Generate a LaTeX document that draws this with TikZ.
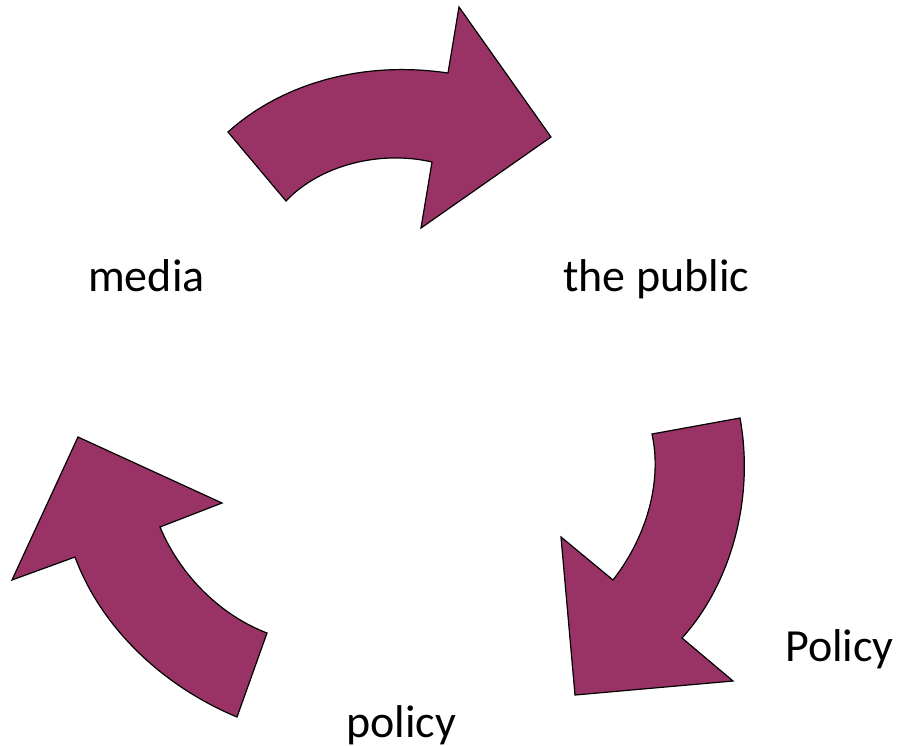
\documentclass[tikz,border=0pt]{standalone}
\usepackage{fontspec}
\setmainfont{Carlito}
\definecolor{plum}{HTML}{993366}
\tikzset{
	turnarrow/.style = {fill=plum, draw=black, line width=1.2pt, line join=miter},
	label text/.style = {anchor=base west, inner sep=0pt, font=\fontsize{46}{55}\selectfont}
}

\begin{document}
\begin{tikzpicture}[x = 1pt, y = -1pt]
		
		\useasboundingbox (0,0) rectangle (897,745);
		
		\draw[turnarrow] (228,132) .. controls (280,85) and (360,60) .. (448,73) -- (459,7) -- (551,137) -- (421,228) -- (432,162) .. controls (380,150) and (320,165) .. (286,201) -- cycle;
		\draw[turnarrow] (740,418) -- (652,434) .. controls (662,480) and (648,535) .. (613,580) -- (561,537) -- (575,695) -- (733,681) -- (682,638) .. controls (730,585) and (755,500) .. (740,418) -- cycle;
		\draw[turnarrow] (267,633) -- (237,717) .. controls (160,685) and (100,625) .. (75,557) -- (12,580) -- (78,437) -- (222,503) -- (160,527) .. controls (180,575) and (220,615) .. (267,633) -- cycle;
		
		\node (media) at (88,291) [label text] {media};
		\node (public) at (563,291) [label text] {the public};
		\node (Policy) at (785,661) [label text] {Policy};
		\node (policy) at (346,737) [label text] {policy};
	\end{tikzpicture}
\end{document}
